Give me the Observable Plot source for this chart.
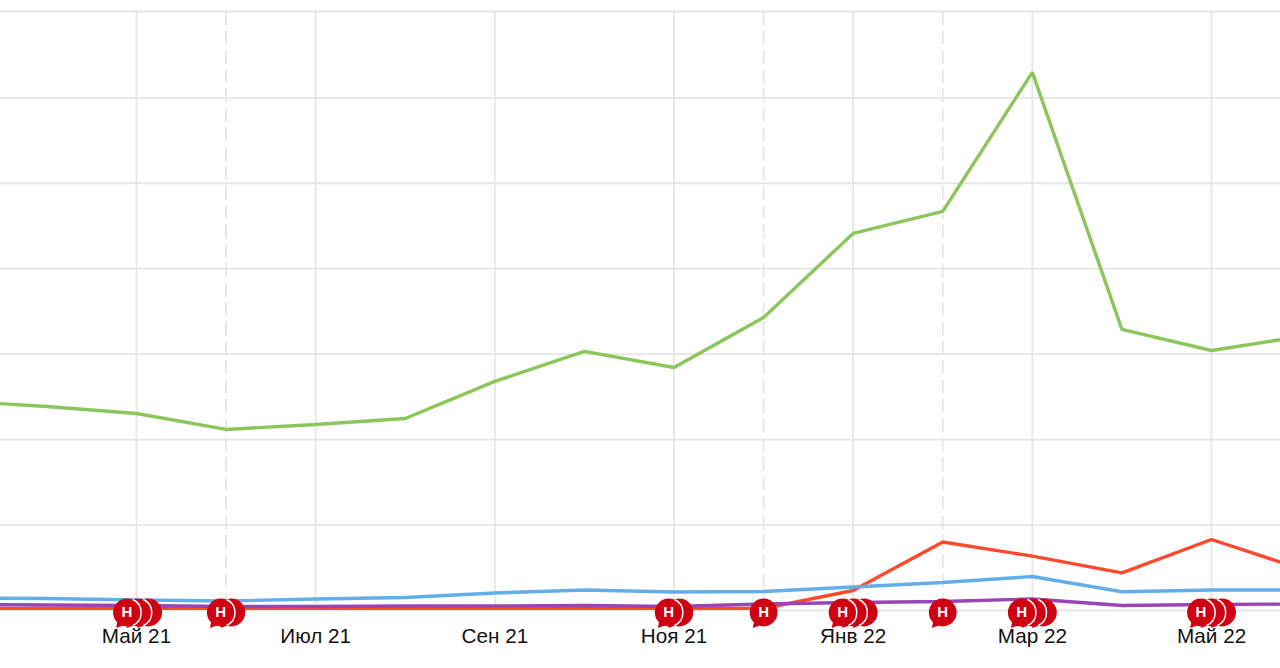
<!DOCTYPE html>
<html lang="ru">
<head>
<meta charset="utf-8">
<script src="https://cdn.jsdelivr.net/npm/d3@7"></script>
<script src="https://cdn.jsdelivr.net/npm/@observablehq/plot@0.6"></script>
<style>
html,body{margin:0;padding:0;background:#fff}
svg{display:block}
</style>
</head>
<body>
<div id="chart"></div>
<script>
// Months are counted from May 21 (0); the window is cropped at both edges.
const months = [-2,-1,0,1,2,3,4,5,6,7,8,9,10,11,12,13];
const green  = [2.452,2.388,2.306,2.119,2.177,2.247,2.681,3.032,2.844,3.430,4.413,4.670,6.298,3.289,3.043,3.207];
const blue   = [0.146,0.140,0.123,0.111,0.135,0.152,0.205,0.240,0.217,0.222,0.275,0.328,0.398,0.219,0.240,0.240];
const red    = [0.023,0.023,0.023,0.023,0.023,0.023,0.023,0.023,0.023,0.023,0.234,0.802,0.636,0.441,0.831,0.486];
const purple = [0.070,0.064,0.058,0.047,0.047,0.053,0.053,0.058,0.047,0.076,0.094,0.105,0.135,0.058,0.070,0.076];

const tickMonths = [0,2,4,6,8,10,12];
const tickLabels = ["Май 21","Июл 21","Сен 21","Ноя 21","Янв 22","Мар 22","Май 22"];
const dashedMonths = [1,7,9];
const gridValues = [0,1,2,3,4,5,6,7.01];

const newsMonths = [0.012,1,6,7,8,9,10,12];
const newsCounts = [3,2,2,1,3,1,3,3];
const newsLetter = "Н";

const xDomain = [-1.518,12.77];
const yDomain = [0,7.01];
const stackStep = 0.118;

const gridColor = "#e6e6e6";
const newsColor = "#cf0012";

const news = newsMonths.flatMap((m,i)=>d3.range(newsCounts[i]).map(k=>({
  x: m + (k-(newsCounts[i]-1)/2)*stackStep,
  layer: k,
  count: newsCounts[i]
})));

const bubble = {draw(ctx,size){
  const r = Math.sqrt(size/Math.PI);
  ctx.moveTo(r,0);
  ctx.arc(0,0,r,0,2*Math.PI);
  ctx.closePath();
  ctx.moveTo(-0.3*r,0.95*r);
  ctx.quadraticCurveTo(-0.55*r,1.0*r,-0.78*r,1.12*r);
  ctx.lineTo(-0.68*r,0.6*r);
  ctx.closePath();
}};
const edge = {draw(ctx,size){
  const r = Math.sqrt(size/Math.PI);
  const a = 1.15;
  ctx.moveTo(r*Math.cos(-a),r*Math.sin(-a));
  ctx.arc(0,0,r,-a,a);
}};

const layers = [2,1,0].flatMap(k=>[
  Plot.dot(news.filter(d=>d.layer===k),{x:"x",y:()=>0,dy:2,r:13.9,symbol:bubble,fill:newsColor,stroke:"none"}),
  Plot.dot(news.filter(d=>d.layer===k && d.layer<d.count-1),{x:"x",y:()=>0,dy:2,r:14.2,symbol:edge,fill:"none",stroke:"#fff",strokeWidth:1.5})
]);

const seriesLine = (values,color)=>Plot.line(values,{x:(d,i)=>months[i],y:d=>d,stroke:color,strokeWidth:3.4,clip:true,curve:"linear",strokeLinejoin:"miter"});

const plot = Plot.plot({
  width:1280,
  height:668,
  marginLeft:0,marginRight:0,marginTop:11,marginBottom:58,
  style:{background:"#fff",fontFamily:"'Liberation Sans',Arial,sans-serif",overflow:"visible"},
  x:{type:"linear",domain:xDomain,axis:null},
  y:{domain:yDomain,axis:null},
  marks:[
    Plot.ruleY(gridValues,{stroke:gridColor,strokeWidth:1.8}),
    Plot.ruleX(tickMonths,{y1:yDomain[1],y2:0,stroke:gridColor,strokeWidth:1.8}),
    Plot.ruleX(dashedMonths,{y1:yDomain[1],y2:0,stroke:gridColor,strokeWidth:1.8,strokeDasharray:"14 5.4"}),
    seriesLine(green,"#8cc65b"),
    seriesLine(red,"#ff4a2e"),
    seriesLine(blue,"#62aeea"),
    seriesLine(purple,"#9b45b4"),
    Plot.axisX({ticks:tickMonths,tickFormat:m=>tickLabels[tickMonths.indexOf(m)],tickSize:0,tickPadding:18,fontSize:20.7,fill:"#111",anchor:"bottom",label:null}),
    ...layers,
    Plot.text(news.filter(d=>d.layer===0),{x:"x",y:()=>0,dy:2,text:()=>newsLetter,fill:"#fff",fontSize:15,fontWeight:"bold"})
  ]
});
document.getElementById("chart").append(plot);
</script>
</body>
</html>
